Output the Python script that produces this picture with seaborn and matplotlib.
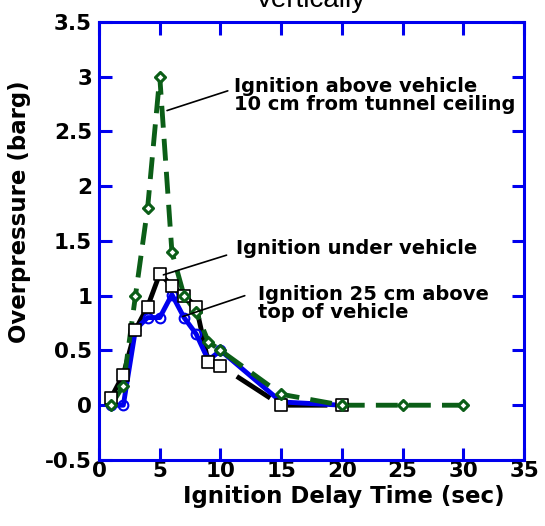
import pandas as pd
import seaborn as sns
import matplotlib.pyplot as plt

# Data
x_ceiling = [1, 2, 3, 4, 5, 6, 7, 8, 9, 10, 15, 20, 25, 30]
y_ceiling = [0.0, 0.18, 1.0, 1.8, 3.0, 1.4, 1.0, 0.85, 0.58, 0.5, 0.1, 0.0, 0.0, 0.0]

x_under = [1, 2, 3, 4, 5, 6, 7, 8, 9, 10, 15, 20]
y_under = [0.07, 0.28, 0.69, 0.9, 1.2, 1.09, 1.0, 0.9, 0.39, 0.36, 0.0, 0.0]

x_above = [1, 2, 3, 4, 5, 6, 7, 8, 9, 10, 15, 20]
y_above = [0.0, 0.0, 0.69, 0.8, 0.8, 1.01, 0.8, 0.65, 0.41, 0.5, 0.03, 0.0]

ceiling = pd.DataFrame({'t': x_ceiling, 'p': y_ceiling})
under = pd.DataFrame({'t': x_under, 'p': y_under})
above = pd.DataFrame({'t': x_above, 'p': y_above})

sns.set_style('ticks')
plt.rcParams['font.family'] = ['DejaVu Sans']
plt.rcParams['text.color'] = 'black'
plt.rcParams['axes.labelcolor'] = 'black'
plt.rcParams['xtick.labelcolor'] = 'black'
plt.rcParams['ytick.labelcolor'] = 'black'

fig = plt.figure(figsize=(5.45, 5.26), dpi=100)
ax = fig.add_axes([0.1817, 0.1255, 0.78, 0.833])

blue = '#0000ee'
green = '#0b5e17'

# Ignition under vehicle - black line, dashed tail after 10 s
head = under[under['t'] <= 10]
tail = under[under['t'] >= 10]
sns.lineplot(data=head, x='t', y='p', ax=ax, color='black', lw=3.5, zorder=2)
sns.lineplot(data=tail, x='t', y='p', ax=ax, color='black', lw=3.5, zorder=2)
ax.lines[-1].set_linestyle((8.2, (8.2, 4.0)))
ax.lines[-1].set_dash_capstyle('butt')

# Ignition 25 cm above top of vehicle - blue solid with circles
sns.lineplot(data=above, x='t', y='p', ax=ax, color=blue, lw=3.5, marker='o',
             markersize=7, markerfacecolor='none', markeredgecolor=blue,
             markeredgewidth=1.5, zorder=3)

# Ignition above vehicle, 10 cm from tunnel ceiling - green dashed with diamonds
sns.lineplot(data=ceiling, x='t', y='p', ax=ax, color=green, lw=3.5, zorder=4)
ax.lines[-1].set_dashes([4.5, 2.3])
sns.scatterplot(data=ceiling, x='t', y='p', ax=ax, marker='D', s=26,
                facecolor='white', edgecolor=green, linewidth=2.2, zorder=6)

sns.scatterplot(data=under, x='t', y='p', ax=ax, marker='s', s=75,
                facecolor='white', edgecolor='black', linewidth=1.2, zorder=5)

ax.set_xlim(0, 35)
ax.set_ylim(-0.5, 3.5)
ax.set_xticks([0, 5, 10, 15, 20, 25, 30, 35])
ax.set_yticks([-0.5, 0, 0.5, 1, 1.5, 2, 2.5, 3, 3.5])
ax.set_yticklabels(['-0.5', '0', '0.5', '1', '1.5', '2', '2.5', '3', '3.5'])

for s in ax.spines.values():
    s.set_visible(True)
    s.set_color(blue)
    s.set_linewidth(2.2)
ax.tick_params(direction='in', length=9, width=2.2, color=blue,
               top=True, right=True, labelsize=15.5, labelcolor='black')
ax.tick_params(axis='x', pad=1)
ax.tick_params(axis='y', pad=5)
for lab in ax.get_xticklabels() + ax.get_yticklabels():
    lab.set_fontweight('bold')

ax.set_xlabel('Ignition Delay Time (sec)', fontsize=16.5, fontweight='bold')
ax.xaxis.set_label_coords(0.576, -0.058)
ax.set_ylabel('Overpressure (barg)', fontsize=16.5, fontweight='bold')
ax.yaxis.set_label_coords(-0.16, 0.566)

# Annotations: connector lines and labels
ann = dict(fontsize=14, fontweight='bold', ha='left', va='center',
           linespacing=0.95, clip_on=False, color='black')
ax.plot([10.6, 5.6], [2.87, 2.69], color='black', lw=1.2, zorder=7)
ax.text(11.1, 2.83, 'Ignition above vehicle\n10 cm from tunnel ceiling', **ann)
ax.plot([10.5, 5.3], [1.37, 1.19], color='black', lw=1.2, zorder=7)
ax.text(11.3, 1.43, 'Ignition under vehicle', **ann)
ax.plot([12.0, 6.9], [1.0, 0.81], color='black', lw=1.2, zorder=7)
ax.text(13.1, 0.93, 'Ignition 25 cm above\ntop of vehicle', **ann)

fig.text(0.569, 0.9867, 'Vertically', fontsize=20, ha='center',
         va='baseline', family='Liberation Sans', color='black')

fig.savefig('out.png', dpi=100)
